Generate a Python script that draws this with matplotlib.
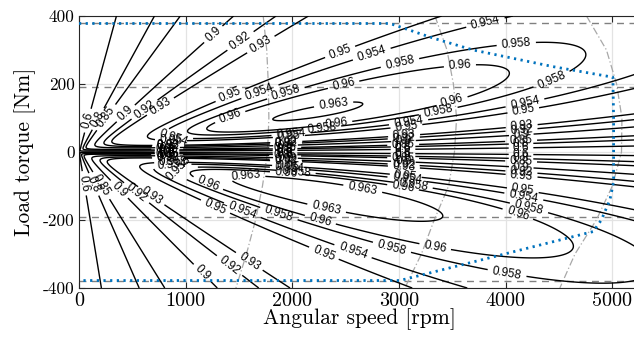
import numpy as np
import matplotlib
matplotlib.use("Agg")
import matplotlib.pyplot as plt

# ---------------- data ----------------
speed_ticks = [0, 1000, 2000, 3000, 4000, 5000]
torque_ticks = [-400, -200, 0, 200, 400]
speed_lim = [0, 5250]
torque_lim = [-400, 400]

levels = [0.6, 0.8, 0.85, 0.9, 0.92, 0.93, 0.95, 0.954, 0.958, 0.96, 0.963]

# loss model: copper ~ T^2, no-load ~ polynomial in omega
copper_coef = 0.0365                 # W / Nm^2
noload_coefs = [1.06, 0.0, 2.0e-5]   # W per (rad/s)^1, ^2, ^3

# reference lines
rated_torque = [190, -190]
max_torque = [380, -380]

envelope_speed = [0, 2915, 3320, 3695, 4445, 5005, 5012, 5012, 4977, 4897, 4820, 3008, 0]
envelope_torque = [378, 378, 335, 300, 251, 220, 100, -88, -141, -200, -234, -378, -378]

arc_torque = [400, 300, 200, 100, 0, -100, -200, -300, -400]
arc1_speed = [1727, 1760, 1775, 1780, 1768, 1720, 1655, 1570, 1471]
arc2_speed = [3337, 3450, 3510, 3540, 3520, 3465, 3330, 3210, 3055]
arc3_speed = [4758, 4945, 5040, 5090, 5086, 5000, 4850, 4650, 4508]

# ---------------- figure ----------------
W_PX, H_PX = 634, 339
fig = plt.figure(figsize=(W_PX / 100, H_PX / 100), dpi=100)
ax = fig.add_axes([79 / W_PX, 1 - 288 / H_PX, 560 / W_PX, 272 / H_PX])
ax.set_xlim(speed_lim)
ax.set_ylim(torque_lim)

# grid
for s in speed_ticks[1:]:
    ax.axvline(s, color="#e3e3e3", lw=0.9, zorder=0)
for t_ in torque_ticks:
    ax.axhline(t_, color="#e3e3e3", lw=0.9, zorder=0)

# efficiency field
n = np.linspace(speed_lim[0], speed_lim[1], 526)
tq = np.linspace(torque_lim[0], torque_lim[1], 802)
N, TQ = np.meshgrid(n, tq)
omega = N * np.pi / 30.0
P = np.abs(TQ) * omega
L = (copper_coef * TQ ** 2 + noload_coefs[0] * omega + noload_coefs[1] * omega ** 2
     + noload_coefs[2] * omega ** 3)
with np.errstate(divide="ignore", invalid="ignore"):
    eta = np.where(TQ > 0, (P - L) / P, P / (P + L))
eta = np.nan_to_num(eta, nan=0.0, neginf=-1.0, posinf=1.0)
eta = np.clip(eta, -1, 1)

cs = ax.contour(N, TQ, eta, levels=levels, colors="k", linewidths=1.0, zorder=3)

# MATLAB-like label placement: every `spacing` px along each line, from its right end
spacing, offset = 118.0, 118.0
positions = []
trans = ax.transData
for segs in cs.allsegs:
    for seg in segs:
        if len(seg) < 2:
            continue
        d = trans.transform(seg)
        if d[0, 0] < d[-1, 0]:
            d = d[::-1]
            seg = seg[::-1]
        steps = np.hypot(np.diff(d[:, 0]), np.diff(d[:, 1]))
        cum = np.concatenate([[0], np.cumsum(steps)])
        s = offset
        while s < cum[-1] - 10:
            x = np.interp(s, cum, seg[:, 0])
            y = np.interp(s, cum, seg[:, 1])
            px, py = trans.transform((x, y))
            if 79 < px < W_PX - 22 and (H_PX - 288 + 6) < py < (H_PX - 16 - 6):
                positions.append((x, y))
            s += spacing

cs.clabel(levels, manual=positions, inline=True, inline_spacing=3, fontsize=8.5,
          fmt=lambda v: f"{v:g}", zorder=4)
for t in cs.labelTexts:
    t.set_fontfamily(["Liberation Sans", "DejaVu Sans"])

# reference lines
for rt in rated_torque:
    ax.axhline(rt, color="#808080", lw=1.0, ls=(0, (5, 4)), zorder=2)
for mt in max_torque:
    ax.axhline(mt, color="#808080", lw=1.0, ls=(0, (5, 4)), zorder=2)

for arc in (arc1_speed, arc2_speed, arc3_speed):
    ax.plot(arc, arc_torque, color="#a8a8a8", lw=0.9, ls=(0, (6, 2, 1, 2)), zorder=2)

ax.plot(envelope_speed, envelope_torque, color="#0072BD", lw=2.0, ls=(0, (0.8, 1.6)),
        zorder=5, dash_capstyle="butt")

# axes styling
ax.set_xticks(speed_ticks)
ax.set_xticklabels([str(v) for v in speed_ticks], fontfamily="cmr10", fontsize=14.5)
ax.set_yticks(torque_ticks)
ax.set_yticklabels([str(v) for v in torque_ticks], fontfamily="cmr10", fontsize=12.5)
ax.tick_params(direction="in", length=4, width=0.8, color="#262626", top=True, right=False, pad=3)
for sp in ax.spines.values():
    sp.set_color("#262626")
    sp.set_linewidth(0.8)

ax.set_xlabel("Angular speed [rpm]", fontfamily="cmr10", fontsize=15.5, labelpad=-1)
ax.set_ylabel("Load torque [Nm]", fontfamily="cmr10", fontsize=15.5, labelpad=5)

fig.savefig("out.png", dpi=100)
